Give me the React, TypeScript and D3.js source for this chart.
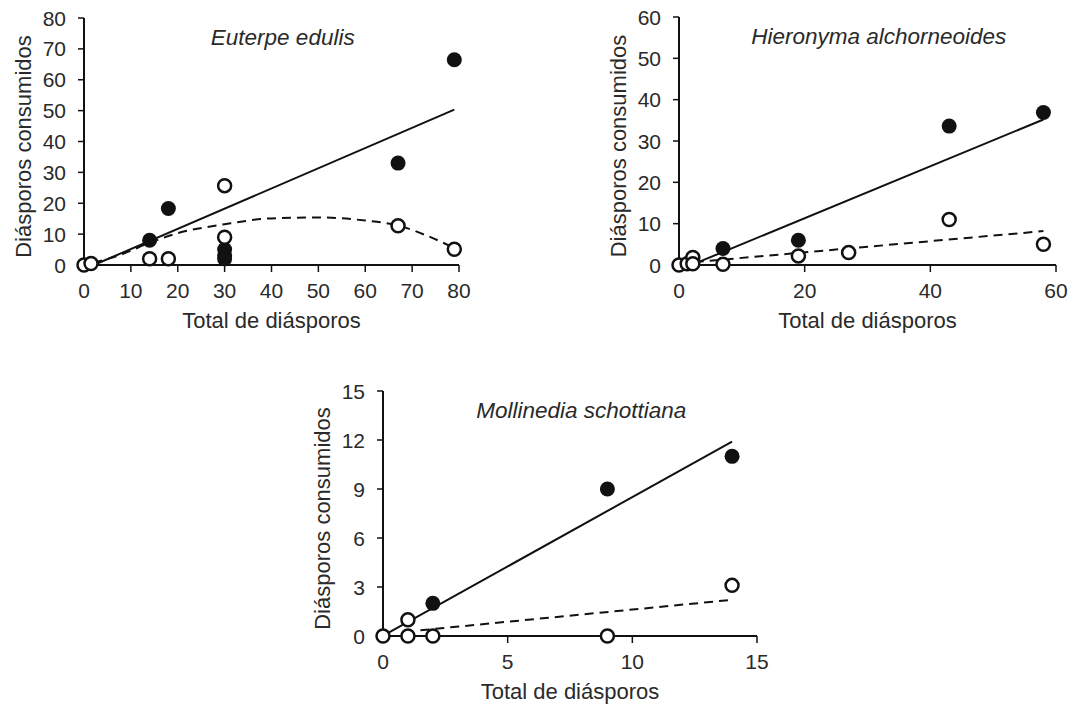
import React from "react";
import * as d3 from "d3";

// ---------- Data ----------
// Euterpe edulis
const euterpeFilled: [number, number][] = [
  [14, 8], [18, 18.3], [30, 5], [30, 3], [30, 2], [67, 33], [79, 66.5],
];
const euterpeOpen: [number, number][] = [
  [0, 0], [1.5, 0.5], [14, 2], [18, 2], [30, 25.7], [30, 9], [67, 12.7], [79, 5.1],
];
const euterpeSolidFit: [number, number][] = [[2.1, 0], [79, 50.3]];
const euterpeDashedFit: [number, number][] = [
  [2, 0.7], [8, 3.4], [14, 7.2], [20, 10.3], [30, 13.2], [40, 15.1], [50, 15.4],
  [60, 14.4], [67, 12.8], [73, 9.6], [79, 5.5],
];
const euterpeXTicks = [0, 10, 20, 30, 40, 50, 60, 70, 80];
const euterpeYTicks = [0, 10, 20, 30, 40, 50, 60, 70, 80];

// Hieronyma alchorneoides
const hieronymaFilled: [number, number][] = [[7, 4], [19, 6], [43, 33.6], [58, 36.9]];
const hieronymaOpen: [number, number][] = [
  [0, 0], [1.3, 0.3], [2.2, 1.8], [2.2, 0.3], [7, 0.2], [19, 2.2], [27, 3], [43, 11], [58, 5],
];
const hieronymaSolidFit: [number, number][] = [[2.3, 0.2], [58, 35.2]];
const hieronymaDashedFit: [number, number][] = [[2.5, 0.7], [58, 8.2]];
const hieronymaXTicks = [0, 20, 40, 60];
const hieronymaYTicks = [0, 10, 20, 30, 40, 50, 60];

// Mollinedia schottiana
const mollinediaFilled: [number, number][] = [[2, 2], [9, 9], [14, 11]];
const mollinediaOpen: [number, number][] = [
  [0, 0], [1, 1], [1, 0], [2, 0], [9, 0], [14, 3.1],
];
const mollinediaSolidFit: [number, number][] = [[0.1, 0.1], [14, 11.9]];
const mollinediaDashedFit: [number, number][] = [[1.5, 0.35], [13.9, 2.2]];
const mollinediaXTicks = [0, 5, 10, 15];
const mollinediaYTicks = [0, 3, 6, 9, 12, 15];

const xTitle = "Total de diásporos";
const yTitle = "Diásporos consumidos";

// ---------- Layout ----------
const FONT = "'Liberation Sans', Arial, sans-serif";
const TEXT = "#2a2a2a";
const INK = "#111";

type PanelProps = {
  title: string;
  left: number; right: number; top: number; bottom: number;
  xMax: number; yMax: number;
  xTicks: number[]; yTicks: number[];
  filled: [number, number][]; open: [number, number][];
  solid: [number, number][]; dashed: [number, number][];
};

function Panel(p: PanelProps) {
  const x = d3.scaleLinear().domain([0, p.xMax]).range([p.left, p.right]);
  const y = d3.scaleLinear().domain([0, p.yMax]).range([p.bottom, p.top]);
  const line = d3.line<[number, number]>().x(d => x(d[0])).y(d => y(d[1]));
  const curve = d3.line<[number, number]>().x(d => x(d[0])).y(d => y(d[1])).curve(d3.curveMonotoneX);
  const midX = (p.left + p.right) / 2;
  const midY = (p.top + p.bottom) / 2;
  return (
    <g>
      {/* axes */}
      <line x1={p.left} x2={p.left} y1={p.top} y2={p.bottom} stroke={INK} strokeWidth={2} />
      <line x1={p.left} x2={p.right} y1={p.bottom} y2={p.bottom} stroke={INK} strokeWidth={2} />
      {p.yTicks.map(t => (
        <g key={"y" + t}>
          <line x1={p.left - 6} x2={p.left} y1={y(t)} y2={y(t)} stroke={INK} strokeWidth={1.5} />
          <text x={p.left - 18} y={y(t)} dy="0.36em" textAnchor="end" fontSize={21} fill={TEXT} fontFamily={FONT}>{t}</text>
        </g>
      ))}
      {p.xTicks.map(t => (
        <g key={"x" + t}>
          <line x1={x(t)} x2={x(t)} y1={p.bottom} y2={p.bottom + 7} stroke={INK} strokeWidth={1.5} />
          <text x={x(t)} y={p.bottom + 33} textAnchor="middle" fontSize={21} fill={TEXT} fontFamily={FONT}>{t}</text>
        </g>
      ))}
      {/* axis titles */}
      <text x={midX} y={p.bottom + 63} textAnchor="middle" fontSize={22} fill={TEXT} fontFamily={FONT}>{xTitle}</text>
      <text transform={`translate(${p.left - 53},${midY + 5}) rotate(-90)`} textAnchor="middle" fontSize={22} fill={TEXT} fontFamily={FONT}>{yTitle}</text>
      <text x={p.left + (p.right - p.left) * 0.53} y={p.top + 27} textAnchor="middle" fontSize={22.5} fontStyle="italic" fill={TEXT} fontFamily={FONT}>{p.title}</text>
      {/* fits */}
      <path d={line(p.solid) || ""} fill="none" stroke={INK} strokeWidth={2} />
      <path d={(p.dashed.length > 2 ? curve(p.dashed) : line(p.dashed)) || ""} fill="none" stroke={INK} strokeWidth={2} strokeDasharray="9,6" />
      {/* points */}
      {p.filled.map((d, i) => (
        <circle key={"f" + i} cx={x(d[0])} cy={y(d[1])} r={7.5} fill={INK} />
      ))}
      {p.open.map((d, i) => (
        <circle key={"o" + i} cx={x(d[0])} cy={y(d[1])} r={6.5} fill="#fff" stroke={INK} strokeWidth={2.5} />
      ))}
    </g>
  );
}

export default function App() {
  return (
    <svg width={1075} height={706} style={{ position: "absolute", left: 0, top: 0, background: "#fff" }}>
      <rect width={1075} height={706} fill="#fff" />
      <Panel title="Euterpe edulis" left={84} right={459} top={18} bottom={265} xMax={80} yMax={80}
        xTicks={euterpeXTicks} yTicks={euterpeYTicks} filled={euterpeFilled} open={euterpeOpen}
        solid={euterpeSolidFit} dashed={euterpeDashedFit} />
      <Panel title="Hieronyma alchorneoides" left={679} right={1056} top={17} bottom={265} xMax={60} yMax={60}
        xTicks={hieronymaXTicks} yTicks={hieronymaYTicks} filled={hieronymaFilled} open={hieronymaOpen}
        solid={hieronymaSolidFit} dashed={hieronymaDashedFit} />
      <Panel title="Mollinedia schottiana" left={383} right={757} top={391} bottom={636} xMax={15} yMax={15}
        xTicks={mollinediaXTicks} yTicks={mollinediaYTicks} filled={mollinediaFilled} open={mollinediaOpen}
        solid={mollinediaSolidFit} dashed={mollinediaDashedFit} />
    </svg>
  );
}
